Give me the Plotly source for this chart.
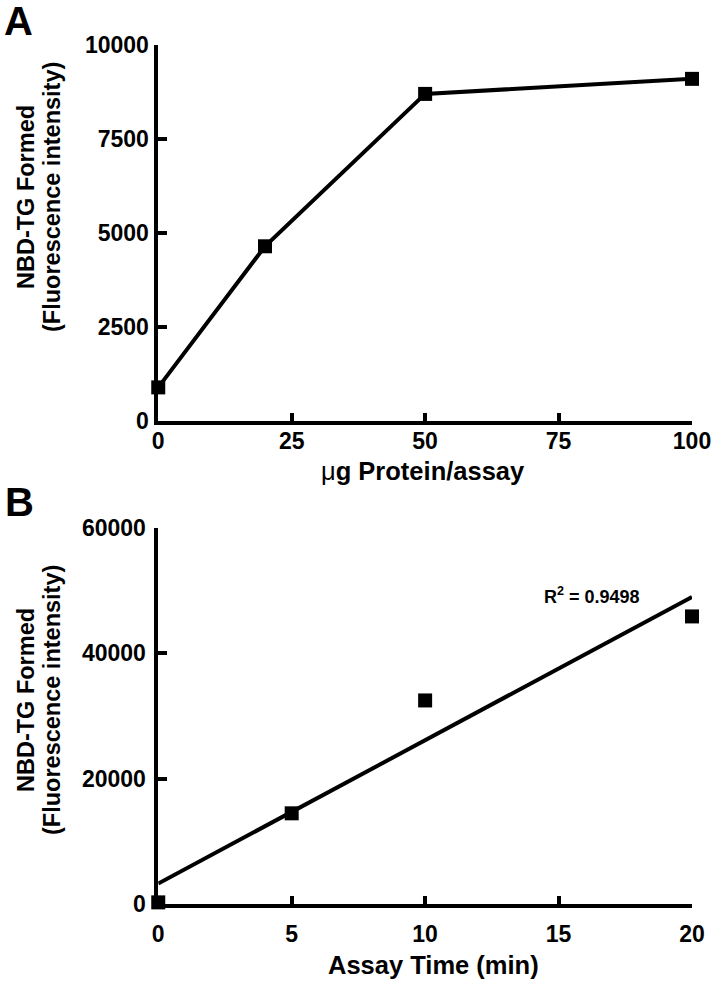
import numpy as np
import plotly.graph_objects as go

# Panel A data
protein_ug = [0, 20, 50, 100]
tg_formed_a = [900, 4650, 8700, 9100]
xticks_a = [0, 25, 50, 75, 100]
yticks_a = [0, 2500, 5000, 7500, 10000]

# Panel B data
time_min = [0, 5, 10, 20]
tg_formed_b = [300, 14500, 32500, 45900]
xticks_b = [0, 5, 10, 15, 20]
yticks_b = [0, 20000, 40000, 60000]
r2_text = "R<sup>2</sup> = 0.9498"

W, H = 711, 983
FONT = "Liberation Sans, Arial, Helvetica, sans-serif"
BLACK = "#000000"


def px_x(p):
    return p / W


def px_y(p):
    return (H - p) / H


slope, intercept = np.polyfit(time_min, tg_formed_b, 1)
fit_x = [min(time_min), max(time_min)]
fit_y = [intercept + slope * v for v in fit_x]

fig = go.Figure()
fig.add_trace(go.Scatter(
    x=protein_ug, y=tg_formed_a, mode="lines+markers",
    line=dict(color=BLACK, width=4),
    marker=dict(symbol="square", size=14, color=BLACK),
    cliponaxis=False, xaxis="x", yaxis="y", showlegend=False))
fig.add_trace(go.Scatter(
    x=fit_x, y=fit_y, mode="lines",
    line=dict(color=BLACK, width=4),
    cliponaxis=False, xaxis="x2", yaxis="y2", showlegend=False))
fig.add_trace(go.Scatter(
    x=time_min, y=tg_formed_b, mode="markers",
    marker=dict(symbol="square", size=14, color=BLACK),
    cliponaxis=False, xaxis="x2", yaxis="y2", showlegend=False))

LW = 3.5
tickfont = dict(family=FONT, size=23, color=BLACK, weight="bold")
common = dict(showline=True, linecolor=BLACK, linewidth=LW, ticks="inside",
              ticklen=9, tickwidth=LW, tickcolor=BLACK, showgrid=False,
              zeroline=False, tickfont=tickfont, fixedrange=True,
              automargin=False, tickformat="d", ticklabeloverflow="allow")

xdom = [px_x(160 - LW / 2), px_x(692)]
fig.update_layout(
    width=W, height=H, margin=dict(l=0, r=0, t=0, b=0, pad=0),
    paper_bgcolor="white", plot_bgcolor="white",
    xaxis=dict(domain=xdom, range=[0, 100], tickvals=xticks_a,
               anchor="y", ticklabelstandoff=-4, **common),
    yaxis=dict(domain=[px_y(423 - LW / 2), px_y(45)], range=[0, 10000],
               tickvals=yticks_a, anchor="x", ticklabelstandoff=1, **common),
    xaxis2=dict(domain=xdom, range=[0, 20], tickvals=xticks_b,
                anchor="y2", ticklabelstandoff=6, **common),
    yaxis2=dict(domain=[px_y(906 - LW / 2), px_y(528)], range=[0, 60000],
                tickvals=yticks_b, anchor="x2", ticklabelstandoff=4, **common),
)

def ann(text, x, y, size, angle=0, weight="bold", family=FONT):
    fig.add_annotation(text=text, x=px_x(x), y=px_y(y), xref="paper", yref="paper",
                       xanchor="center", yanchor="middle", showarrow=False,
                       textangle=angle,
                       font=dict(family=family, size=size, color=BLACK, weight=weight))

# Panel letters
ann("A", 18, 21, 40)
ann("B", 19, 502, 40)

# Axis titles
ann("<span style='font-weight:normal'>\u03bc</span>g Protein/assay", 423, 471, 25.5)
ann("Assay Time (min)", 433, 965, 25.5)
ann("NBD-TG Formed", 26, 197, 23.5, angle=-90)
ann("(Fluorescence intensity)", 52, 197, 23.5, angle=-90)
ann("NBD-TG Formed", 26, 700, 23.5, angle=-90)
ann("(Fluorescence intensity)", 52, 700, 23.5, angle=-90)

# R squared label
ann(r2_text, 592, 595, 18)

fig.write_html("out.html", config={"displayModeBar": False},
               post_script="document.body.style.margin='0';document.body.style.overflow='hidden';")
